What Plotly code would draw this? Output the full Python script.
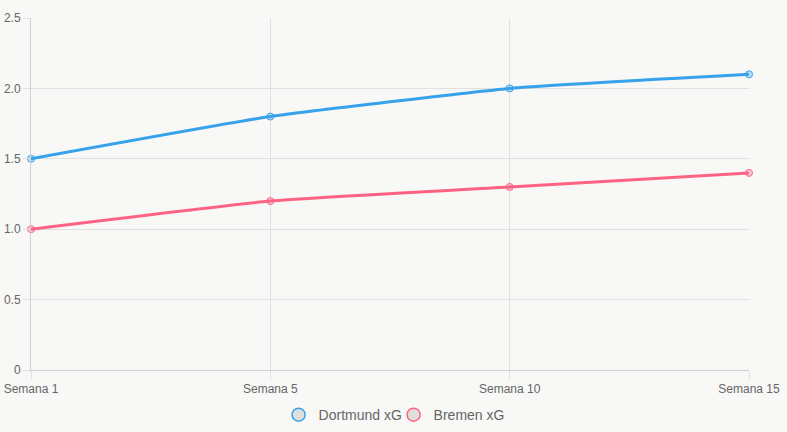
import plotly.graph_objects as go

weeks = ["Semana 1", "Semana 5", "Semana 10", "Semana 15"]
dortmund_xg = [1.5, 1.8, 2.0, 2.1]
bremen_xg = [1.0, 1.2, 1.3, 1.4]
y_ticks = [0, 0.5, 1.0, 1.5, 2.0, 2.5]
y_tick_labels = ["0", "0.5", "1.0", "1.5", "2.0", "2.5"]

blue = "#36A2EB"
pink = "#FF6384"
bg = "#f8f8f6"

fig = go.Figure()
for name, vals, col, fillc in [("Dortmund xG", dortmund_xg, blue, "rgba(54,162,235,0.3)"),
                               ("Bremen xG", bremen_xg, pink, "rgba(255,99,132,0.3)")]:
    fig.add_trace(go.Scatter(
        x=weeks, y=vals, mode="lines+markers", name=name, showlegend=False,
        line=dict(color=col, width=3, shape="spline", smoothing=0.4),
        marker=dict(size=7, color=fillc, line=dict(color=col, width=1)),
        cliponaxis=False,
    ))
    fig.add_trace(go.Scatter(
        x=[None], y=[None], mode="markers", name=name, showlegend=True,
        marker=dict(size=13, color="rgba(0,0,0,0.1)", line=dict(color=col, width=1.5)),
    ))

fig.update_layout(
    width=787, height=432,
    paper_bgcolor=bg, plot_bgcolor=bg,
    margin=dict(l=31, r=38, t=18, b=62, autoexpand=False),
    font=dict(family="Liberation Sans, Arial, sans-serif", color="#666", size=12),
    showlegend=True,
    legend=dict(orientation="h", x=0.505, xanchor="center", y=-0.128, yanchor="middle",
                font=dict(size=14, color="#666"), itemwidth=30, bgcolor="rgba(0,0,0,0)",
                entrywidth=70, entrywidthmode="pixels"),
    xaxis=dict(type="category", categoryorder="array", categoryarray=weeks,
               range=[0, 3], showgrid=True, gridcolor="#e0e0e0", gridwidth=1,
               showline=True, linecolor="#cfcfcf", linewidth=1,
               ticks="outside", ticklen=8, tickcolor="#e0e0e0", automargin=False,
               tickfont=dict(size=12, color="#666"), zeroline=False, fixedrange=True),
    yaxis=dict(range=[0, 2.5], tickvals=y_ticks, ticktext=y_tick_labels,
               showgrid=True, gridcolor="#e0e0e0", gridwidth=1,
               showline=True, linecolor="#cfcfcf", linewidth=1, automargin=False,
               ticks="outside", ticklen=7, tickcolor="#e0e0e0",
               tickfont=dict(size=12, color="#666"), zeroline=False, fixedrange=True),
)

fig.write_html("out.html", config={"displayModeBar": False})
